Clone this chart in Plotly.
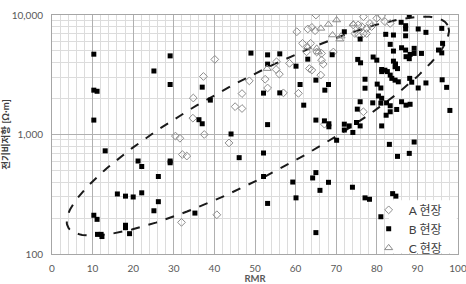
import numpy as np
import plotly.graph_objects as go

# ---- data (RMR, resistivity in ohm-m) ----
a_rmr = [30.4, 31.5, 32.1, 33.2, 34.7, 34.8, 37.3, 37.5, 40.1, 43.6, 40.6, 31.9, 45.1, 46.8, 46.8,
         48.6, 52.5, 53.1, 55.3, 55.2, 56.0, 57.0, 58.5, 60.7, 60.3, 61.7, 63.0, 63.7, 64.0, 62.7,
         65.0, 64.8, 65.2, 66.4, 66.4, 66.8, 64.0, 63.4, 66.2, 69.3, 74.2, 75.4, 76.3, 77.5, 78.3,
         78.7, 74.6, 75.5, 76.7, 77.5, 76.7, 80.0, 81.2, 82.0, 83.3, 76.7, 67.1]
a_res = [970, 930, 680, 660, 1370, 2020, 3060, 1000, 4250, 850, 213, 184, 1710, 1650, 2200,
         2810, 2900, 2450, 4060, 3500, 3200, 2230, 3940, 2210, 7240, 5790, 7640, 5790, 7880, 4920,
         10000, 7390, 4900, 4770, 4190, 3880, 3460, 3560, 3140, 4900, 8250, 8250, 8000, 7730, 8500,
         8000, 7000, 6800, 7000, 7000, 9680, 9380, 9810, 8800, 8500, 1550, 1220]

b_rmr = [10.3, 10.3, 11.1, 10.3, 25.1, 13.1, 21.2, 22.1, 26.2, 16.1, 18.1, 20.0, 22.1, 26.2, 25.1,
         10.3, 11.1, 11.2, 12.1, 12.3, 18.1, 18.1, 19.1, 29.1, 29.1, 35.2, 44.1, 46.1, 52.1, 52.1,
         59.3, 60.1, 53.1, 29.1, 29.1, 37.0, 39.0, 36.2, 37.0, 49.0, 53.1, 53.1, 56.1, 52.1, 56.1,
         53.1, 60.1, 61.1, 62.0, 63.0, 69.0, 72.0, 75.9, 75.3, 76.0, 79.1, 80.0,
         88.0, 86.0, 87.1, 87.1, 87.1, 90.2, 92.1, 82.2, 84.1, 96.0, 96.2, 95.2, 96.0, 83.3, 84.1,
         86.1, 87.1, 89.2, 88.2, 89.2, 87.2, 88.0, 91.0, 84.1, 84.6, 84.5, 85.1,
         81.2, 82.0, 81.2, 82.6, 83.3, 83.7, 84.5, 85.3,
         77.1, 77.1, 80.1, 81.0, 88.1, 88.6, 90.2, 92.1, 96.1, 97.2, 98.0,
         75.9, 75.2, 79.0, 80.4, 81.2, 81.0, 82.4, 83.3, 86.1, 87.2, 88.2, 84.9, 83.3, 82.3, 81.2,
         65.0, 67.2, 68.1,
         65.0, 67.1, 68.2, 68.2, 72.0, 73.2, 72.0, 75.0, 74.1, 75.9,
         64.2, 65.0, 66.0, 68.1, 74.0, 77.1, 78.2, 81.0, 65.0, 83.9, 84.7, 70.1, 83.1, 85.1, 88.0, 89.2]
b_res = [4700, 2350, 2300, 1320, 3400, 730, 600, 540, 445, 318, 305, 300, 325, 274, 230,
         211, 195, 146, 146, 140, 174, 166, 148, 600, 580, 220, 1010, 640, 700, 445,
         400, 295, 265, 4550, 2620, 2490, 1940, 1330, 1230, 4800, 4640, 3880, 4730, 2220, 2230,
         1210, 3730, 2620, 1760, 4270, 4650, 7240, 6290, 4250, 3980, 4450, 4190,
         10000, 8690, 8140, 7640, 6700, 7640, 7160, 6890, 6800, 7730, 5790, 5090, 4820, 5680, 4990,
         5320, 5090, 5260, 4680, 4770, 4480, 4310, 4770, 4110, 3890, 3690, 3560,
         3500, 3450, 3360, 3360, 3140, 2950, 2850, 2760,
         2900, 2440, 2640, 2450, 2950, 2740, 2450, 2700, 2870, 2480, 1590,
         1880, 1630, 1840, 2100, 2010, 1830, 1840, 1740, 1880, 1760, 1790, 1620, 1550, 1450, 1180,
         2850, 2350, 2620,
         1320, 1300, 1230, 1160, 1220, 1180, 1090, 1260, 1040, 1180,
         433, 480, 341, 398, 362, 295, 287, 205, 151, 320, 305, 895, 827, 656, 695, 865]

c_rmr = [53.0, 63.0, 65.2, 65.6, 66.2, 68.1, 70.1, 69.1, 71.2, 70.9, 74.2]
c_res = [3560, 5420, 5260, 4900, 7730, 8350, 9080, 6800, 6650, 6280, 8400]

series_names = ["A 현장", "B 현장", "C 현장"]
x_ticks = list(range(0, 101, 10))
y_tickvals = [100, 1000, 10000]
y_ticktext = ["100", "1,000", "10,000"]

# ---- dashed envelope ellipse (defined in plot pixel units, converted to data) ----
px_per_rmr = 406 / 100.0
px_per_dec = 239 / 2.0
ell_cx, ell_cl = 50.7, 3.07      # centre: RMR, log10(resistivity)
ell_a, ell_b, ell_ang = 215, 48, np.deg2rad(28.0)
t = np.linspace(0, 2 * np.pi, 241)
ex = ell_a * np.cos(t) * np.cos(ell_ang) - ell_b * np.sin(t) * np.sin(ell_ang)
ey = ell_a * np.cos(t) * np.sin(ell_ang) + ell_b * np.sin(t) * np.cos(ell_ang)
ell_x = ell_cx + ex / px_per_rmr
ell_y = 10 ** (ell_cl + ey / px_per_dec)

fig = go.Figure()
fig.add_trace(go.Scatter(x=ell_x, y=ell_y, mode="lines", showlegend=False,
                         line=dict(color="#1a1a1a", width=2, dash="dash"), hoverinfo="skip"))
fig.add_trace(go.Scatter(x=a_rmr, y=a_res, mode="markers", name=series_names[0],
                         marker=dict(symbol="diamond-open", size=6, color="#8c8c8c",
                                     line=dict(width=1))))
fig.add_trace(go.Scatter(x=b_rmr, y=b_res, mode="markers", name=series_names[1],
                         marker=dict(symbol="square", size=5, color="#000000")))
fig.add_trace(go.Scatter(x=c_rmr, y=c_res, mode="markers", name=series_names[2],
                         marker=dict(symbol="triangle-up-open", size=7, color="#8c8c8c",
                                     line=dict(width=1))))

# white patch behind the legend (hides gridlines there, like the original)
fig.add_shape(type="rect", xref="paper", yref="paper", x0=0.83, x1=0.997, y0=0.004, y1=0.225,
              fillcolor="white", line=dict(width=0), layer="above")

font_fam = "Lato, 'Noto Sans CJK KR', sans-serif"
fig.update_layout(
    width=466, height=284,
    margin=dict(l=52, r=8, t=15, b=30),
    paper_bgcolor="white", plot_bgcolor="white",
    font=dict(family=font_fam, size=10, color="#595959"),
    showlegend=True,
    legend=dict(x=0.78, y=-0.035, xanchor="left", yanchor="bottom",
                bgcolor="rgba(0,0,0,0)", font=dict(size=12, color="#404040"),
                itemwidth=30, tracegroupgap=0, borderwidth=0),
    xaxis=dict(range=[0, 100], tickvals=x_ticks, showgrid=True, gridcolor="#b0b0b0",
               gridwidth=1, zeroline=False, showline=True, mirror=True, linecolor="#a6a6a6",
               ticks="outside", ticklen=5, tickcolor="rgba(0,0,0,0)", automargin=False,
               ticklabeloverflow="allow",
               tickfont=dict(size=10, color="#595959"),
               minor=dict(dtick=2, showgrid=True, gridcolor="#dcdcdc", gridwidth=1),
               title=dict(text="<b>RMR</b>", font=dict(size=9.5, color="#595959"), standoff=2)),
    yaxis=dict(type="log", range=[2, 4], tickvals=y_tickvals, ticktext=y_ticktext,
               showgrid=True, gridcolor="#b0b0b0", zeroline=False, showline=True, mirror=True,
               linecolor="#a6a6a6", ticks="outside", ticklen=6, tickcolor="rgba(0,0,0,0)",
               automargin=False, ticklabeloverflow="allow",
               tickfont=dict(size=10, color="#595959"),
               minor=dict(dtick="D1", showgrid=True, gridcolor="#dcdcdc", gridwidth=1),
               title=dict(text="<b>전기비저항 [Ω·m]</b>", font=dict(size=9.5, color="#404040"),
                          standoff=2)),
)

fig.write_html("out.html")
